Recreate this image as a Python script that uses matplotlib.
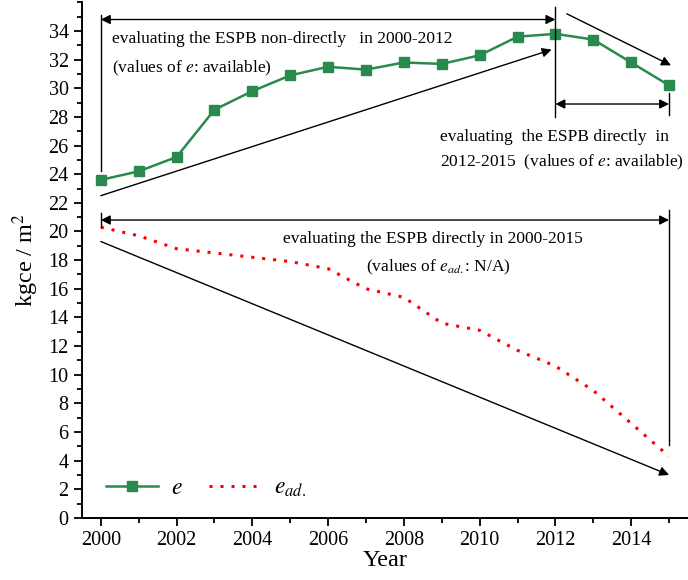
import matplotlib
matplotlib.use("Agg")
import matplotlib.pyplot as plt
from matplotlib.ticker import MultipleLocator

plt.rcParams["font.family"] = ["Liberation Serif", "DejaVu Serif"]
plt.rcParams["mathtext.fontset"] = "stix"

years = [2000, 2001, 2002, 2003, 2004, 2005, 2006, 2007,
         2008, 2009, 2010, 2011, 2012, 2013, 2014, 2015]
e_values = [23.6, 24.2, 25.2, 28.5, 29.8, 30.9, 31.5, 31.3,
            31.8, 31.7, 32.3, 33.6, 33.8, 33.4, 31.8, 30.2]
e_ad_values = [20.3, 19.7, 18.8, 18.5, 18.2, 17.9, 17.4, 16.0,
               15.4, 13.6, 13.1, 11.7, 10.6, 8.9, 6.6, 4.3]

green = "#2a8a4e"
fig = plt.figure(figsize=(6.88, 5.80), dpi=100)
ax = fig.add_axes([0.119, 0.107, 0.881, 0.889])

ax.plot(years, e_values, color=green, lw=1.8, marker="s", ms=7.5,
        markeredgecolor=green, label="$e$")
ax.plot(years, e_ad_values, color="red", lw=2.2, linestyle=(0, (1, 2.6)),
        label="$e_{ad.}$")

ax.set_xlim(1999.5, 2015.5)
ax.set_ylim(0, 36)
ax.xaxis.set_major_locator(MultipleLocator(2))
ax.xaxis.set_minor_locator(MultipleLocator(1))
ax.yaxis.set_major_locator(MultipleLocator(2))
ax.yaxis.set_minor_locator(MultipleLocator(1))
ax.set_yticks(range(0, 35, 2))
ax.tick_params(which="major", direction="out", length=6, width=1.3, labelsize=14.5)
ax.tick_params(which="minor", direction="out", length=3.5, width=1.3)
for s in ("top", "right"):
    ax.spines[s].set_visible(False)
for s in ("left", "bottom"):
    ax.spines[s].set_linewidth(1.4)

ax.set_xlabel("Year", fontsize=17.5, labelpad=0)
ax.set_ylabel("kgce / m$^{2}$", fontsize=17.5, labelpad=5)

k = dict(color="black", lw=1.0)
arrow2 = dict(arrowstyle="<|-|>", color="black", lw=1.0, mutation_scale=14,
              shrinkA=0, shrinkB=0)
arrow1 = dict(arrowstyle="-|>", color="black", lw=1.0, mutation_scale=14,
              shrinkA=0, shrinkB=0)

# 2000-2012 bracket
ax.plot([2000, 2000], [24.2, 35.1], **k)
ax.plot([2012, 2012], [28.0, 35.7], **k)
ax.annotate("", xy=(2012, 34.8), xytext=(2000, 34.8), arrowprops=arrow2)
ax.annotate("", xy=(2011.9, 32.7), xytext=(2000, 22.5), arrowprops=arrow1)
ax.text(2000.3, 33.45, "evaluating the ESPB non-directly   in 2000-2012",
        fontsize=12.5, va="center")
ax.text(2000.3, 31.4, "(values of $e$: available)", fontsize=12.5, va="center")

# 2012-2015 bracket
ax.plot([2015, 2015], [28.1, 29.7], **k)
ax.annotate("", xy=(2015, 28.9), xytext=(2012, 28.9), arrowprops=arrow2)
ax.annotate("", xy=(2015.05, 31.6), xytext=(2012.3, 35.2), arrowprops=arrow1)
ax.text(2008.95, 26.6, "evaluating  the ESPB directly  in",
        fontsize=12.5, va="center")
ax.text(2008.95, 24.8, "2012-2015  (values of $e$: available)",
        fontsize=12.5, va="center")

# 2000-2015 bracket
ax.plot([2000, 2000], [20.3, 21.3], **k)
ax.plot([2015, 2015], [5.1, 21.5], **k)
ax.annotate("", xy=(2015, 20.8), xytext=(2000, 20.8), arrowprops=arrow2)
ax.annotate("", xy=(2015, 3.0), xytext=(2000, 19.3), arrowprops=arrow1)
ax.text(2004.8, 19.45, "evaluating the ESPB directly in 2000-2015",
        fontsize=12.5, va="center")
ax.text(2007.0, 17.5, "(values of $e_{ad.}$: N/A)",
        fontsize=12.5, va="center")

ax.legend(loc="lower left", bbox_to_anchor=(0.005, -0.005), ncol=2, frameon=False,
          fontsize=17, handlelength=2.2, columnspacing=1.1, handletextpad=0.55)

fig.savefig("out.png", dpi=100)
